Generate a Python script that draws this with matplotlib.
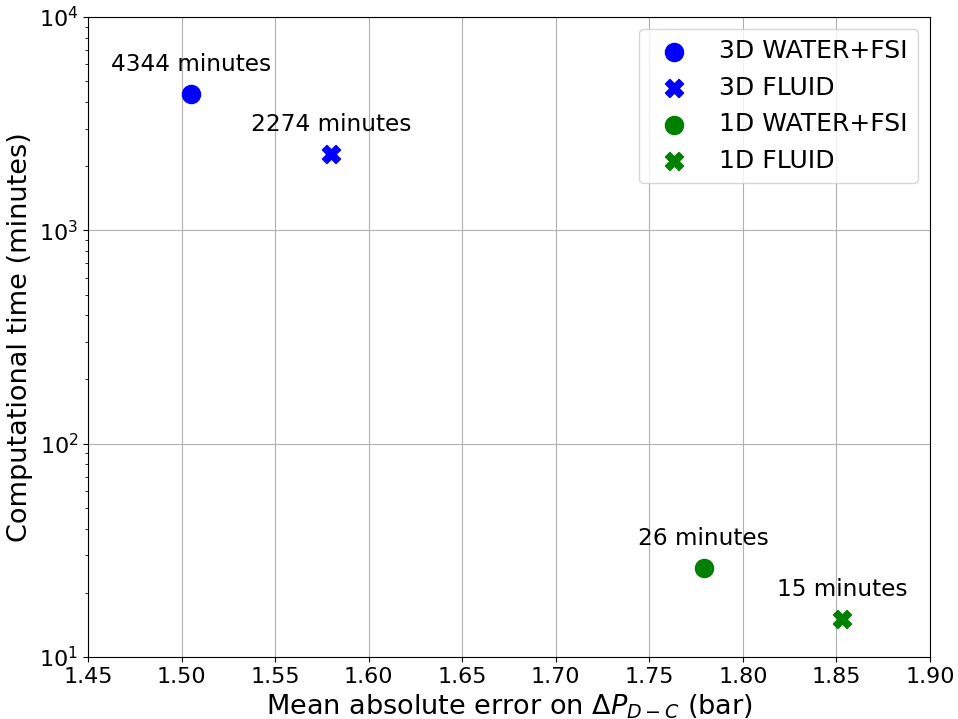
import matplotlib
matplotlib.use('Agg')
import matplotlib.pyplot as plt

# mean absolute error (bar) vs computational time (minutes)
labels = ['3D WATER+FSI', '3D FLUID', '1D WATER+FSI', '1D FLUID']
errors = [1.505, 1.580, 1.779, 1.853]
times = [4344, 2274, 26, 15]
colors = ['blue', 'blue', 'green', 'green']
markers = ['o', 'X', 'o', 'X']

fig = plt.figure(figsize=(9.58, 7.19), dpi=100)
ax = fig.add_axes([0.0919, 0.0862, 0.8789, 0.8902])

for lab, x, t, c, m in zip(labels, errors, times, colors, markers):
    ax.scatter(x, t, s=170, c=c, marker=m, label=lab, zorder=3)
    ax.annotate(f'{t} minutes', (x, t), textcoords='offset points', xytext=(0, 13),
                ha='center', va='bottom', fontsize=16.7)

ax.set_yscale('log')
ax.set_xlim(1.45, 1.90)
ax.set_ylim(10, 1e4)
ax.grid(True, which='major')
ax.tick_params(axis='both', labelsize=16)
ax.set_xlabel(r'Mean absolute error on $\Delta P_{D-C}$ (bar)', fontsize=19.5)
ax.set_ylabel('Computational time (minutes)', fontsize=19.5)
ax.legend(fontsize=18, loc='upper right')

fig.savefig('out.png', dpi=100)
